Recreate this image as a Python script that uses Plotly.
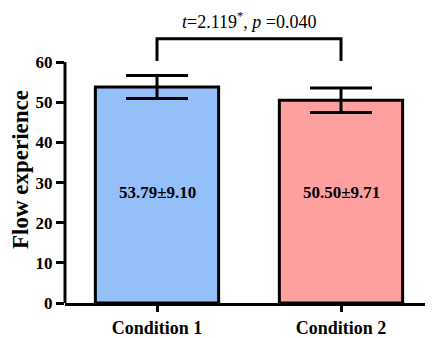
import plotly.graph_objects as go

categories = ["Condition 1", "Condition 2"]
means = [53.79, 50.50]
sds = [9.10, 9.71]
sems = [2.88, 3.07]
bar_colors = ["#94BFF9", "#FFA0A0"]
bar_labels = ["53.79±9.10", "50.50±9.71"]
y_ticks = [0, 10, 20, 30, 40, 50, 60]
stat_text = "<i>t</i>=2.119<sup>*</sup>, <i>p</i> =0.040"
bracket_y = [60.3, 65.8]

FONT = "Liberation Serif"

fig = go.Figure()
fig.add_trace(go.Bar(
    x=categories, y=means, width=0.67,
    marker=dict(color=bar_colors, line=dict(color="black", width=3)),
    error_y=dict(type="data", array=sems, color="black", thickness=3, width=31, visible=True),
    showlegend=False,
))

# labels inside bars
for c, lab in zip(categories, bar_labels):
    fig.add_annotation(x=c, y=27.5, text=f"<b>{lab}</b>", showarrow=False,
                       font=dict(family=FONT, size=17, color="black"))

# significance bracket
fig.add_shape(type="path",
              path=f"M 0,{bracket_y[0]} L 0,{bracket_y[1]} L 1,{bracket_y[1]} L 1,{bracket_y[0]}",
              xref="x", yref="y", line=dict(color="black", width=3))
fig.add_annotation(x=0.5, xref="x", y=bracket_y[1], yref="y", yanchor="bottom", yshift=5,
                   text=stat_text, showarrow=False,
                   font=dict(family=FONT, size=18, color="black"))

# y axis line (only up to 60)
fig.add_shape(type="line", xref="paper", yref="y", x0=0, x1=0, y0=0, y1=60,
              line=dict(color="black", width=3))

fig.update_layout(
    width=425, height=330,
    margin=dict(l=57, r=0, t=28, b=27),
    plot_bgcolor="white", paper_bgcolor="white",
    font=dict(family=FONT, color="black"),
    xaxis=dict(range=[-0.5, 1.5], showline=True, linecolor="black", linewidth=3,
               ticks="outside", ticklen=6, tickwidth=3, tickcolor="black",
               tickfont=dict(family=FONT, size=18, color="black"),
               ticktext=[f"<b>{c}</b>" for c in categories], tickvals=categories,
               showgrid=False, zeroline=False),
    yaxis=dict(range=[0, 66.5], tickvals=y_ticks, ticktext=[f"<b>{v}</b>" for v in y_ticks],
               ticks="outside", ticklen=8, tickwidth=3, tickcolor="black",
               tickfont=dict(family=FONT, size=17, color="black"),
               showline=False, showgrid=False, zeroline=False,
               title=dict(text="<b>Flow experience</b>", font=dict(family=FONT, size=23, color="black"),
                          standoff=6)),
)

fig.write_html("out.html")
